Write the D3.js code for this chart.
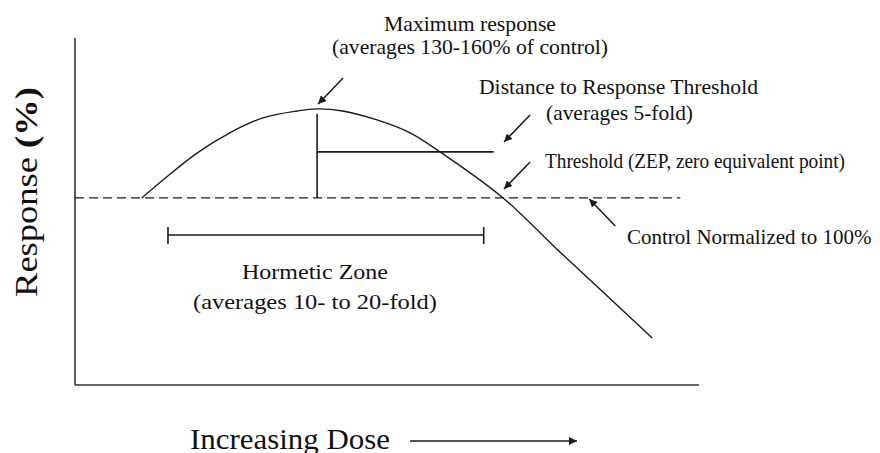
<!DOCTYPE html>
<html>
<head>
<meta charset="utf-8">
<script src="https://cdn.jsdelivr.net/npm/d3@7"></script>
<style>
  body { margin: 0; background: #fff; }
  svg { display: block; }
  text { font-family: "Liberation Serif", "Times New Roman", serif; fill: #111; }
</style>
</head>
<body>
<div id="chart-container"></div>
<script>
// dose-response curve (dose in arbitrary units, response in % of control)
const doseValues = [10.7, 14.1, 19.6, 24.8, 30.1, 35.6, 38.8, 42.9, 48.4, 53.7, 58.5, 68.6, 77.2, 85.3, 92.5];
const responseValues = [100, 109.6, 124.1, 134.8, 142.8, 146.5, 147.6, 146.5, 141.7, 134.8, 124.6, 100, 72.7, 47.6, 25.1];

const controlLevel = 100;
const controlEnd = 97;
const peakDose = 38.8;
const peakResponse = 147.6;
const thresholdDose = 68.6;
const distanceLevel = 124.6;
const distanceEnd = 67.1;
const zoneRange = [14.9, 65.5];
const zoneLevel = 80.2;

const xLabel = "Increasing Dose";
const yLabel = ["Response ", "(%)"];
const zoneLabels = ["Hormetic Zone", "(averages  10- to 20-fold)"];
const maxLabels = ["Maximum  response", "(averages 130-160%  of control)"];
const distanceLabels = ["Distance to Response Threshold", "(averages  5-fold)"];
const thresholdLabel = "Threshold (ZEP, zero equivalent  point)";
const controlLabel = "Control  Normalized  to 100%";

const width = 880, height = 453;
const margin = { top: 38, right: 181, bottom: 68, left: 75 };

const svg = d3.select("#chart-container")
    .append("svg")
    .attr("width", width)
    .attr("height", height);

const x = d3.scaleLinear().domain([0, 100]).range([margin.left, width - margin.right]);
const y = d3.scaleLinear().domain([0, 185.5]).range([height - margin.bottom, margin.top]);

const ink = "#1a1a1a";

svg.append("defs").append("marker")
    .attr("id", "head")
    .attr("viewBox", "0 0 10 10")
    .attr("refX", 10).attr("refY", 5)
    .attr("markerWidth", 9).attr("markerHeight", 8)
    .attr("markerUnits", "userSpaceOnUse")
    .attr("orient", "auto")
    .append("path")
    .attr("d", "M0,0 L10,5 L0,10 Z")
    .attr("fill", ink);

// axes (no ticks, just the two lines)
svg.append("line")
    .attr("x1", x(0)).attr("x2", x(0))
    .attr("y1", y(185.5)).attr("y2", y(0))
    .attr("stroke", "#333").attr("stroke-width", 1.6);
svg.append("line")
    .attr("x1", x(0)).attr("x2", x(100))
    .attr("y1", y(0)).attr("y2", y(0))
    .attr("stroke", "#333").attr("stroke-width", 1.6);

// control level
svg.append("line")
    .attr("x1", x(0)).attr("x2", x(controlEnd))
    .attr("y1", y(controlLevel)).attr("y2", y(controlLevel))
    .attr("stroke", ink).attr("stroke-width", 1.3)
    .attr("stroke-dasharray", "9,5");

// curve
const curve = d3.line()
    .x((d, i) => x(doseValues[i]))
    .y(d => y(d))
    .curve(d3.curveCatmullRom.alpha(0.5));
svg.append("path")
    .attr("d", curve(responseValues))
    .attr("fill", "none")
    .attr("stroke", ink)
    .attr("stroke-width", 1.4);

// peak drop line and distance line
svg.append("line")
    .attr("x1", x(peakDose)).attr("x2", x(peakDose))
    .attr("y1", y(peakResponse - 2.7)).attr("y2", y(controlLevel))
    .attr("stroke", ink).attr("stroke-width", 1.6);
svg.append("line")
    .attr("x1", x(peakDose)).attr("x2", x(distanceEnd))
    .attr("y1", y(distanceLevel)).attr("y2", y(distanceLevel))
    .attr("stroke", ink).attr("stroke-width", 1.6);

// hormetic zone bar
const zone = svg.append("g").attr("stroke", ink).attr("stroke-width", 1.6);
zone.append("line")
    .attr("x1", x(zoneRange[0])).attr("x2", x(zoneRange[1]))
    .attr("y1", y(zoneLevel)).attr("y2", y(zoneLevel));
zoneRange.forEach(d => {
    zone.append("line")
        .attr("x1", x(d)).attr("x2", x(d))
        .attr("y1", y(zoneLevel) - 8).attr("y2", y(zoneLevel) + 9);
});

// annotation arrows
function arrow(x1, y1, x2, y2) {
    svg.append("line")
        .attr("x1", x1).attr("y1", y1)
        .attr("x2", x2).attr("y2", y2)
        .attr("stroke", ink).attr("stroke-width", 1.5)
        .attr("marker-end", "url(#head)");
}
arrow(x(peakDose) + 26, y(peakResponse) - 31, x(peakDose) + 1, y(peakResponse) - 5);
arrow(x(thresholdDose) + 27, y(distanceLevel) - 37, x(thresholdDose) + 1, y(distanceLevel) - 10);
arrow(x(thresholdDose) + 27, y(controlLevel) - 36, x(thresholdDose) + 1, y(controlLevel) - 9);
arrow(x(controlEnd) - 65, y(controlLevel) + 28, x(controlEnd) - 91, y(controlLevel) + 1);

// labels
const fs = 21;
svg.append("text").attr("x", 470).attr("y", 31).attr("text-anchor", "middle")
    .attr("font-size", fs).attr("textLength", 172).attr("lengthAdjust", "spacingAndGlyphs")
    .text(maxLabels[0]);
svg.append("text").attr("x", 470).attr("y", 54).attr("text-anchor", "middle")
    .attr("font-size", fs).attr("textLength", 276).attr("lengthAdjust", "spacingAndGlyphs")
    .text(maxLabels[1]);
svg.append("text").attr("x", 479).attr("y", 94)
    .attr("font-size", fs).attr("textLength", 279).attr("lengthAdjust", "spacingAndGlyphs")
    .text(distanceLabels[0]);
svg.append("text").attr("x", 546).attr("y", 120)
    .attr("font-size", fs).attr("textLength", 147).attr("lengthAdjust", "spacingAndGlyphs")
    .text(distanceLabels[1]);
svg.append("text").attr("x", 545).attr("y", 168)
    .attr("font-size", fs).attr("textLength", 300).attr("lengthAdjust", "spacingAndGlyphs")
    .text(thresholdLabel);
svg.append("text").attr("x", 627).attr("y", 244)
    .attr("font-size", fs)
    .text(controlLabel);
svg.append("text").attr("x", 315).attr("y", 279).attr("text-anchor", "middle")
    .attr("font-size", fs).attr("textLength", 146).attr("lengthAdjust", "spacingAndGlyphs")
    .text(zoneLabels[0]);
svg.append("text").attr("x", 315).attr("y", 309).attr("text-anchor", "middle")
    .attr("font-size", fs).attr("textLength", 244).attr("lengthAdjust", "spacingAndGlyphs")
    .text(zoneLabels[1]);

// axis titles
svg.append("text").attr("x", 190).attr("y", 449)
    .attr("font-size", 29).attr("textLength", 200).attr("lengthAdjust", "spacingAndGlyphs")
    .text(xLabel);
svg.append("line")
    .attr("x1", 410).attr("x2", 577)
    .attr("y1", 441).attr("y2", 441)
    .attr("stroke", ink).attr("stroke-width", 1.5)
    .attr("marker-end", "url(#head)");

const yt = svg.append("text")
    .attr("transform", "translate(37,192) rotate(-90)")
    .attr("text-anchor", "middle")
    .attr("font-size", 31)
    .attr("textLength", 210).attr("lengthAdjust", "spacingAndGlyphs");
yt.append("tspan").text(yLabel[0]);
yt.append("tspan").attr("font-weight", "bold").text(yLabel[1]);
</script>
</body>
</html>
